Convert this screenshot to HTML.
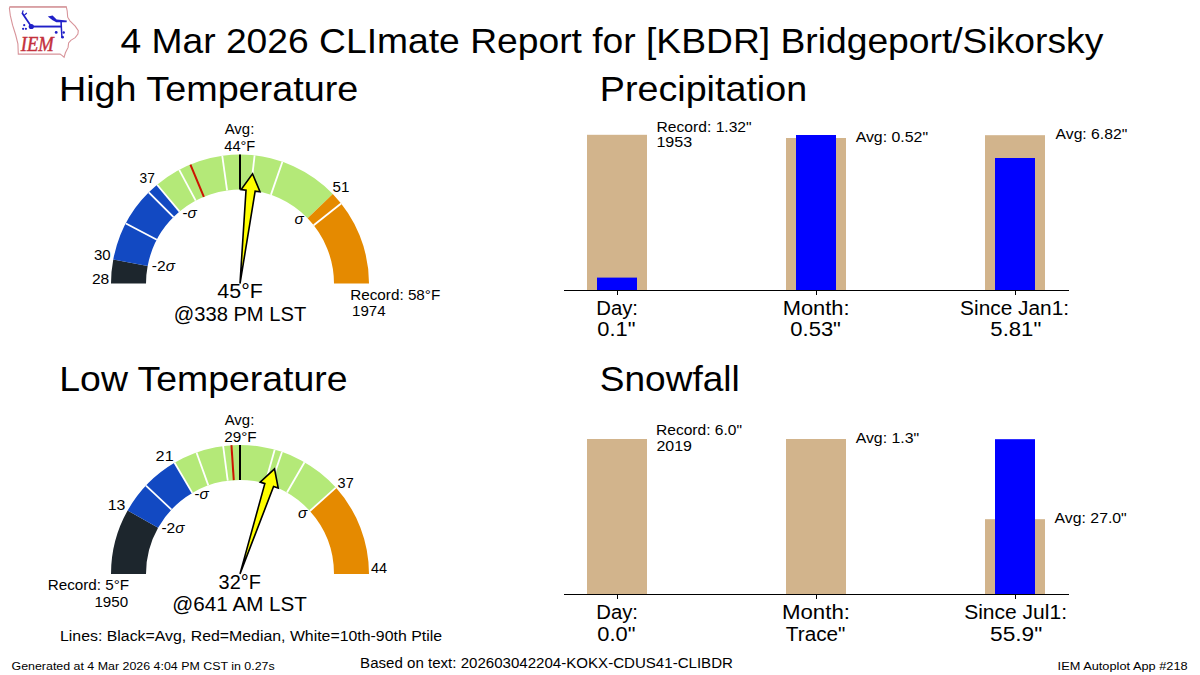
<!DOCTYPE html>
<html><head><meta charset="utf-8"><style>
html,body{margin:0;padding:0;background:#fff;width:1200px;height:675px;overflow:hidden}
svg{display:block}
text{font-family:"Liberation Sans",sans-serif}
</style></head><body>
<svg width="1200" height="675" viewBox="0 0 1200 675">
<rect width="1200" height="675" fill="#fff"/>
<g>
<path d="M9.9,6.9 L66.3,6.9 L67.2,11 L67.7,17.2 L69.9,20.8 L75.2,26.1 L78.3,30.6 L77.9,34.1 L75.2,37.7 L70.8,40.3 L68.6,43 L68.1,47.4 L65.4,52.8 L64.1,57.2 L61.9,55.4 L60.1,54.1 L18.3,54.1 L17.9,43.9 L15.7,35 L12.6,25.2 L10.3,15.4 L9.4,8.3 Z" fill="none" stroke="#d8949a" stroke-width="1.1"/>
<path d="M9.9,6.9 L66.3,6.9" stroke="#d8a0a4" stroke-width="1.6"/>
<g fill="#2020c8" stroke="none">
<circle cx="31.3" cy="26.5" r="2.6"/>
<rect x="31" y="25.6" width="30" height="1.9"/>
<path d="M30.6,27 L21.4,13.4 L22.9,12.5 L32,26 Z"/>
<path d="M21.6,13.2 L22.6,10.2 L23.8,10.6 L22.9,13.4 Z M23.6,15.2 L26.4,12.6 L27.2,13.5 L24.4,16 Z"/>
<circle cx="24.2" cy="25.2" r="1.1"/><circle cx="23.1" cy="28.8" r="1.1"/><circle cx="25.9" cy="28.8" r="1.1"/>
<path d="M47.8,16.4 L52.6,15.6 L56.6,19.6 L66.8,20.6 L66.6,22.2 L56.4,22.2 L52.6,20.2 Z"/>
<path d="M60.2,20.6 L61.8,20.6 L62.6,37.4 L61.2,37.4 Z"/>
<circle cx="56.2" cy="32.4" r="1.4"/><circle cx="63.7" cy="32.5" r="1.2"/><circle cx="62.5" cy="37.2" r="1.4"/>
</g>
<text x="20.8" y="51" style="font-family:'Liberation Serif',serif;font-style:italic;fill:#c4303c;stroke:#c4303c;stroke-width:0.45" font-size="20.5" textLength="33" lengthAdjust="spacingAndGlyphs">IEM</text>
</g>

<path d="M113.28,259.43 A129.0,129.0 0 0 0 111.00,283.60 L146.00,283.60 A94.0,94.0 0 0 1 147.66,265.99 Z" fill="#1d262d"/>
<path d="M157.08,184.78 A129.0,129.0 0 0 0 113.28,259.43 L147.66,265.99 A94.0,94.0 0 0 1 179.58,211.59 Z" fill="#1249c2"/>
<path d="M332.79,193.99 A129.0,129.0 0 0 0 157.08,184.78 L179.58,211.59 A94.0,94.0 0 0 1 307.62,218.30 Z" fill="#b4e978"/>
<path d="M369.00,283.60 A129.0,129.0 0 0 0 332.79,193.99 L307.62,218.30 A94.0,94.0 0 0 1 334.00,283.60 Z" fill="#e58a00"/>
<line x1="156.85" y1="239.76" x2="125.89" y2="223.44" stroke="#ffffff" stroke-width="1.8"/>
<line x1="173.53" y1="217.13" x2="148.78" y2="192.38" stroke="#ffffff" stroke-width="1.8"/>
<line x1="179.58" y1="211.59" x2="157.08" y2="184.78" stroke="#ffffff" stroke-width="1.8"/>
<line x1="195.72" y1="200.68" x2="179.24" y2="169.81" stroke="#ffffff" stroke-width="1.8"/>
<line x1="227.08" y1="190.49" x2="222.27" y2="155.82" stroke="#ffffff" stroke-width="1.8"/>
<line x1="250.64" y1="190.20" x2="254.60" y2="155.43" stroke="#ffffff" stroke-width="1.8"/>
<line x1="270.91" y1="194.83" x2="282.42" y2="161.78" stroke="#ffffff" stroke-width="1.8"/>
<line x1="313.67" y1="225.21" x2="341.10" y2="203.47" stroke="#ffffff" stroke-width="1.8"/>
<line x1="203.88" y1="196.82" x2="190.43" y2="164.51" stroke="#cc1400" stroke-width="2.0"/>
<line x1="240.00" y1="189.60" x2="240.00" y2="154.60" stroke="#000000" stroke-width="2.0"/>
<path d="M240.00,283.60 L255.15,191.22 L260.02,191.78 L252.51,173.81 L241.15,189.63 L246.01,190.18 Z" fill="#ffff00" stroke="#000" stroke-width="1.6" stroke-linejoin="miter"/>
<path d="M127.61,510.57 A129.0,129.0 0 0 0 111.00,573.90 L146.00,573.90 A94.0,94.0 0 0 1 158.11,527.76 Z" fill="#1d262d"/>
<path d="M174.53,462.75 A129.0,129.0 0 0 0 127.61,510.57 L158.11,527.76 A94.0,94.0 0 0 1 192.29,492.91 Z" fill="#1249c2"/>
<path d="M335.87,487.58 A129.0,129.0 0 0 0 174.53,462.75 L192.29,492.91 A94.0,94.0 0 0 1 309.86,511.00 Z" fill="#b4e978"/>
<path d="M369.00,573.90 A129.0,129.0 0 0 0 335.87,487.58 L309.86,511.00 A94.0,94.0 0 0 1 334.00,573.90 Z" fill="#e58a00"/>
<line x1="171.48" y1="509.55" x2="145.96" y2="485.59" stroke="#ffffff" stroke-width="1.8"/>
<line x1="192.29" y1="492.91" x2="174.53" y2="462.75" stroke="#ffffff" stroke-width="1.8"/>
<line x1="208.31" y1="485.40" x2="196.51" y2="452.45" stroke="#ffffff" stroke-width="1.8"/>
<line x1="227.73" y1="480.70" x2="223.16" y2="446.00" stroke="#ffffff" stroke-width="1.8"/>
<line x1="265.28" y1="483.36" x2="274.69" y2="449.65" stroke="#ffffff" stroke-width="1.8"/>
<line x1="270.60" y1="485.02" x2="282.00" y2="451.93" stroke="#ffffff" stroke-width="1.8"/>
<line x1="287.00" y1="492.49" x2="304.50" y2="462.18" stroke="#ffffff" stroke-width="1.8"/>
<line x1="309.86" y1="511.00" x2="335.87" y2="487.58" stroke="#ffffff" stroke-width="1.8"/>
<line x1="233.77" y1="480.11" x2="231.45" y2="445.18" stroke="#cc1400" stroke-width="2.0"/>
<line x1="240.00" y1="479.90" x2="240.00" y2="444.90" stroke="#000000" stroke-width="2.0"/>
<path d="M240.00,573.90 L273.57,486.51 L278.23,488.04 L274.51,468.93 L260.18,482.11 L264.83,483.64 Z" fill="#ffff00" stroke="#000" stroke-width="1.6" stroke-linejoin="miter"/>
<rect x="587.00" y="134.80" width="60.00" height="155.20" fill="#d2b48c"/>
<rect x="597.00" y="277.60" width="40.00" height="12.40" fill="#0000ff"/>
<rect x="786.00" y="138.00" width="60.00" height="152.00" fill="#d2b48c"/>
<rect x="796.00" y="135.00" width="40.00" height="155.00" fill="#0000ff"/>
<rect x="985.00" y="135.20" width="60.00" height="154.80" fill="#d2b48c"/>
<rect x="995.00" y="158.00" width="40.00" height="132.00" fill="#0000ff"/>
<rect x="564" y="290" width="505" height="1" fill="#000"/><rect x="617" y="290" width="1" height="5" fill="#000"/><rect x="816" y="290" width="1" height="5" fill="#000"/><rect x="1015" y="290" width="1" height="5" fill="#000"/>
<rect x="587.00" y="439.00" width="60.00" height="155.00" fill="#d2b48c"/>
<rect x="786.00" y="439.00" width="60.00" height="155.00" fill="#d2b48c"/>
<rect x="985.00" y="519.20" width="60.00" height="74.80" fill="#d2b48c"/>
<rect x="995.00" y="439.20" width="40.00" height="154.80" fill="#0000ff"/>
<rect x="564" y="594" width="505" height="1" fill="#000"/><rect x="617" y="594" width="1" height="5" fill="#000"/><rect x="816" y="594" width="1" height="5" fill="#000"/><rect x="1015" y="594" width="1" height="5" fill="#000"/>
<g fill="#000">
<text x="120.40" y="53.40" font-size="35.00" text-anchor="start" textLength="982.91" lengthAdjust="spacingAndGlyphs">4 Mar 2026 CLImate Report for [KBDR] Bridgeport/Sikorsky</text>
<text x="58.90" y="100.80" font-size="35.00" text-anchor="start" textLength="299.33" lengthAdjust="spacingAndGlyphs">High Temperature</text>
<text x="599.80" y="100.80" font-size="35.00" text-anchor="start" textLength="207.33" lengthAdjust="spacingAndGlyphs">Precipitation</text>
<text x="59.30" y="391.40" font-size="35.00" text-anchor="start" textLength="288.16" lengthAdjust="spacingAndGlyphs">Low Temperature</text>
<text x="599.80" y="391.40" font-size="35.00" text-anchor="start" textLength="140.01" lengthAdjust="spacingAndGlyphs">Snowfall</text>
<text x="239.50" y="134.00" font-size="14.58" text-anchor="middle" textLength="29.60" lengthAdjust="spacingAndGlyphs">Avg:</text>
<text x="239.80" y="150.70" font-size="14.58" text-anchor="middle" textLength="31.01" lengthAdjust="spacingAndGlyphs">44°F</text>
<text x="154.80" y="182.90" font-size="14.58" text-anchor="end" textLength="15.27" lengthAdjust="spacingAndGlyphs">37</text>
<text x="182.50" y="217.60" font-size="14.58"><tspan textLength="5.01" lengthAdjust="spacingAndGlyphs">-</tspan><tspan font-style="italic" font-size="15.31">σ</tspan></text>
<text x="110.60" y="259.75" font-size="14.58" text-anchor="end" textLength="16.67" lengthAdjust="spacingAndGlyphs">30</text>
<text x="109.30" y="283.50" font-size="14.58" text-anchor="end" textLength="17.37" lengthAdjust="spacingAndGlyphs">28</text>
<text x="151.80" y="270.80" font-size="14.58"><tspan textLength="13.85" lengthAdjust="spacingAndGlyphs">-2</tspan><tspan font-style="italic" font-size="15.31">σ</tspan></text>
<text x="332.60" y="191.90" font-size="14.58" text-anchor="start" textLength="16.87" lengthAdjust="spacingAndGlyphs">51</text>
<text x="294.50" y="223.50" font-size="14.58"><tspan font-style="italic" font-size="15.31">σ</tspan></text>
<text x="240.10" y="297.90" font-size="20.41" text-anchor="middle" textLength="45.44" lengthAdjust="spacingAndGlyphs">45°F</text>
<text x="240.00" y="320.60" font-size="20.41" text-anchor="middle" textLength="132.45" lengthAdjust="spacingAndGlyphs">@338 PM LST</text>
<text x="350.20" y="299.70" font-size="14.58" text-anchor="start" textLength="90.10" lengthAdjust="spacingAndGlyphs">Record: 58°F</text>
<text x="352.10" y="315.70" font-size="14.58" text-anchor="start" textLength="33.55" lengthAdjust="spacingAndGlyphs">1974</text>
<text x="239.50" y="424.80" font-size="14.58" text-anchor="middle" textLength="29.60" lengthAdjust="spacingAndGlyphs">Avg:</text>
<text x="240.50" y="441.50" font-size="14.58" text-anchor="middle" textLength="32.41" lengthAdjust="spacingAndGlyphs">29°F</text>
<text x="173.70" y="460.70" font-size="14.58" text-anchor="end" textLength="18.07" lengthAdjust="spacingAndGlyphs">21</text>
<text x="125.40" y="509.90" font-size="14.58" text-anchor="end" textLength="17.67" lengthAdjust="spacingAndGlyphs">13</text>
<text x="194.60" y="498.75" font-size="14.58"><tspan textLength="5.01" lengthAdjust="spacingAndGlyphs">-</tspan><tspan font-style="italic" font-size="15.31">σ</tspan></text>
<text x="161.40" y="533.00" font-size="14.58"><tspan textLength="13.85" lengthAdjust="spacingAndGlyphs">-2</tspan><tspan font-style="italic" font-size="15.31">σ</tspan></text>
<text x="337.60" y="487.80" font-size="14.58" text-anchor="start" textLength="16.07" lengthAdjust="spacingAndGlyphs">37</text>
<text x="298.00" y="517.60" font-size="14.58"><tspan font-style="italic" font-size="15.31">σ</tspan></text>
<text x="371.00" y="573.40" font-size="14.58" text-anchor="start" textLength="16.07" lengthAdjust="spacingAndGlyphs">44</text>
<text x="239.70" y="588.70" font-size="20.41" text-anchor="middle" textLength="42.24" lengthAdjust="spacingAndGlyphs">32°F</text>
<text x="239.70" y="610.80" font-size="20.41" text-anchor="middle" textLength="134.62" lengthAdjust="spacingAndGlyphs">@641 AM LST</text>
<text x="129.20" y="590.30" font-size="14.58" text-anchor="end" textLength="81.46" lengthAdjust="spacingAndGlyphs">Record: 5°F</text>
<text x="128.20" y="607.30" font-size="14.58" text-anchor="end" textLength="33.75" lengthAdjust="spacingAndGlyphs">1950</text>
<text x="60.00" y="641.00" font-size="14.58" text-anchor="start" textLength="382.02" lengthAdjust="spacingAndGlyphs">Lines: Black=Avg, Red=Median, White=10th-90th Ptile</text>
<text x="656.60" y="131.70" font-size="14.58" text-anchor="start" textLength="95.00" lengthAdjust="spacingAndGlyphs">Record: 1.32&quot;</text>
<text x="656.40" y="147.10" font-size="14.58" text-anchor="start" textLength="35.75" lengthAdjust="spacingAndGlyphs">1953</text>
<text x="855.65" y="142.00" font-size="14.58" text-anchor="start" textLength="72.39" lengthAdjust="spacingAndGlyphs">Avg: 0.52&quot;</text>
<text x="1055.60" y="139.00" font-size="14.58" text-anchor="start" textLength="71.64" lengthAdjust="spacingAndGlyphs">Avg: 6.82&quot;</text>
<text x="617.10" y="314.80" font-size="20.41" text-anchor="middle" textLength="41.72" lengthAdjust="spacingAndGlyphs">Day:</text>
<text x="616.35" y="336.40" font-size="20.41" text-anchor="middle" textLength="38.16" lengthAdjust="spacingAndGlyphs">0.1&quot;</text>
<text x="816.10" y="314.80" font-size="20.41" text-anchor="middle" textLength="66.88" lengthAdjust="spacingAndGlyphs">Month:</text>
<text x="815.63" y="336.40" font-size="20.41" text-anchor="middle" textLength="50.58" lengthAdjust="spacingAndGlyphs">0.53&quot;</text>
<text x="1014.60" y="314.80" font-size="20.41" text-anchor="middle" textLength="108.97" lengthAdjust="spacingAndGlyphs">Since Jan1:</text>
<text x="1015.82" y="336.40" font-size="20.41" text-anchor="middle" textLength="50.98" lengthAdjust="spacingAndGlyphs">5.81&quot;</text>
<text x="656.00" y="435.20" font-size="14.58" text-anchor="start" textLength="86.06" lengthAdjust="spacingAndGlyphs">Record: 6.0&quot;</text>
<text x="656.40" y="450.60" font-size="14.58" text-anchor="start" textLength="35.55" lengthAdjust="spacingAndGlyphs">2019</text>
<text x="855.65" y="443.00" font-size="14.58" text-anchor="start" textLength="63.55" lengthAdjust="spacingAndGlyphs">Avg: 1.3&quot;</text>
<text x="1054.60" y="523.40" font-size="14.58" text-anchor="start" textLength="72.14" lengthAdjust="spacingAndGlyphs">Avg: 27.0&quot;</text>
<text x="617.10" y="619.00" font-size="20.41" text-anchor="middle" textLength="41.72" lengthAdjust="spacingAndGlyphs">Day:</text>
<text x="616.35" y="640.60" font-size="20.41" text-anchor="middle" textLength="38.16" lengthAdjust="spacingAndGlyphs">0.0&quot;</text>
<text x="815.96" y="619.00" font-size="20.41" text-anchor="middle" textLength="67.98" lengthAdjust="spacingAndGlyphs">Month:</text>
<text x="815.65" y="640.60" font-size="20.41" text-anchor="middle" textLength="59.61" lengthAdjust="spacingAndGlyphs">Trace&quot;</text>
<text x="1015.60" y="619.00" font-size="20.41" text-anchor="middle" textLength="102.86" lengthAdjust="spacingAndGlyphs">Since Jul1:</text>
<text x="1016.20" y="640.60" font-size="20.41" text-anchor="middle" textLength="52.23" lengthAdjust="spacingAndGlyphs">55.9&quot;</text>
<text x="11.50" y="669.80" font-size="11.67" text-anchor="start" textLength="263.18" lengthAdjust="spacingAndGlyphs">Generated at 4 Mar 2026 4:04 PM CST in 0.27s</text>
<text x="360.10" y="667.70" font-size="14.58" text-anchor="start" textLength="372.84" lengthAdjust="spacingAndGlyphs">Based on text: 202603042204-KOKX-CDUS41-CLIBDR</text>
<text x="1187.60" y="670.00" font-size="11.67" text-anchor="end" textLength="129.98" lengthAdjust="spacingAndGlyphs">IEM Autoplot App #218</text>
</g>
</svg>
</body></html>
